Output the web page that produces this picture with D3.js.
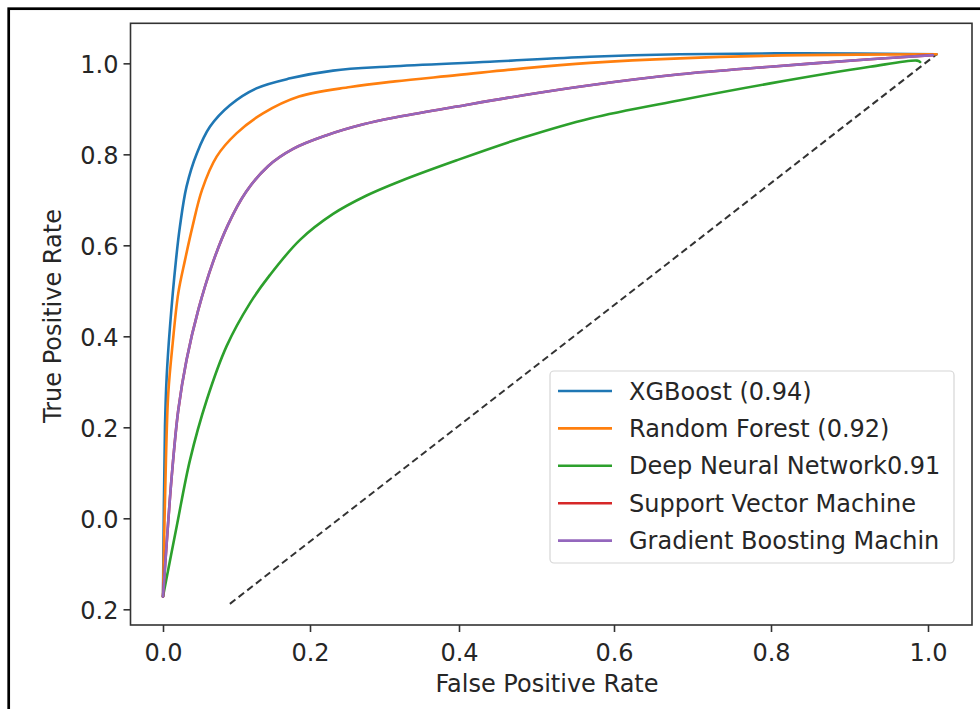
<!DOCTYPE html>
<html>
<head>
<meta charset="utf-8">
<script src="https://cdn.jsdelivr.net/npm/d3@7"></script>
<style>
  body { margin: 0; background: #fff; }
  svg { display: block; font-family: "DejaVu Sans", sans-serif; }
</style>
</head>
<body>
<svg id="chart" width="980" height="709"></svg>
<script>
// values
var xTicks = [0, 0.2, 0.4, 0.6, 0.8, 1.0];
var xTickLabels = ['0.0', '0.2', '0.4', '0.6', '0.8', '1.0'];
var yTicks = [-0.2, 0, 0.2, 0.4, 0.6, 0.8, 1.0];
var yTickLabels = ['0.2', '0.0', '0.2', '0.4', '0.6', '0.8', '1.0'];

var legendNames = ['XGBoost (0.94)', 'Random Forest (0.92)', 'Deep Neural Network0.91',
  'Support Vector Machine', 'Gradient Boosting Machin'];
var colors = ['#1f77b4', '#ff7f0e', '#2ca02c', '#d62728', '#9467bd'];

var xgbFpr = [0, 0.0027, 0.005, 0.0095, 0.0177, 0.023, 0.032, 0.046, 0.064, 0.091, 0.127, 0.173, 0.231, 0.307, 0.44, 0.569, 0.684, 0.841, 1.011];
var xgbTpr = [-0.172, 0.201, 0.311, 0.421, 0.568, 0.641, 0.729, 0.802, 0.861, 0.908, 0.945, 0.967, 0.984, 0.993, 1.0035, 1.0145, 1.02, 1.022, 1.02];

var rfFpr = [0, 0.004, 0.0072, 0.0132, 0.0208, 0.030, 0.0401, 0.0531, 0.073, 0.1, 0.136, 0.185, 0.254, 0.314, 0.397, 0.483, 0.569, 0.684, 0.841, 1.011];
var rfTpr = [-0.172, 0.128, 0.275, 0.385, 0.495, 0.568, 0.641, 0.722, 0.795, 0.846, 0.89, 0.927, 0.948, 0.9604, 0.974, 0.989, 1.001, 1.011, 1.018, 1.02];

var dnnFpr = [0, 0.0186, 0.0367, 0.0595, 0.0867, 0.1184, 0.1456, 0.1864, 0.231, 0.276, 0.321, 0.397, 0.483, 0.569, 0.684, 0.799, 0.926, 0.986, 0.99];
var dnnTpr = [-0.172, -0.018, 0.128, 0.26, 0.379, 0.473, 0.535, 0.612, 0.669, 0.7095, 0.741, 0.787, 0.837, 0.879, 0.919, 0.956, 0.9925, 1.006, 1.003];

var gbmFpr = [0, 0.005, 0.0118, 0.0208, 0.032, 0.048, 0.068, 0.0884, 0.1129, 0.1429, 0.177, 0.2224, 0.2716, 0.314, 0.397, 0.483, 0.569, 0.684, 0.799, 0.926, 1.006];
var gbmTpr = [-0.172, -0.055, 0.091, 0.238, 0.348, 0.458, 0.563, 0.645, 0.717, 0.774, 0.812, 0.842, 0.866, 0.881, 0.905, 0.93, 0.952, 0.976, 0.9925, 1.009, 1.018];

// the SVM curve is hidden under the GBM curve in the picture
var svmFpr = gbmFpr;
var svmTpr = gbmTpr;

var chanceFpr = [0.091, 1.011];
var chanceTpr = [-0.188, 1.02];

var svg = d3.select('#chart');

// outer frame of the picture
svg.append('rect')
  .attr('x', 8.7).attr('y', 8.7)
  .attr('width', 1000).attr('height', 720)
  .attr('fill', 'none')
  .attr('stroke', '#000')
  .attr('stroke-width', 2.7);

// the x axis of the source is not evenly spaced, so use a piecewise scale
var xScale = d3.scaleLinear()
  .domain([-0.0444, 0, 0.2, 0.4, 0.6, 0.8, 1.0, 1.056])
  .range([130.5, 163, 310, 459, 614, 771, 928, 972]);

var yScale = d3.scaleLinear()
  .domain([-0.2345, 1.088])
  .range([625, 23.3]);

var xAxis = d3.axisBottom(xScale)
  .tickValues(xTicks)
  .tickFormat((d, i) => xTickLabels[i])
  .tickSize(7)
  .tickPadding(12)
  .tickSizeOuter(0);

var yAxis = d3.axisLeft(yScale)
  .tickValues(yTicks)
  .tickFormat((d, i) => yTickLabels[i])
  .tickSize(7)
  .tickPadding(5)
  .tickSizeOuter(0);

var gx = svg.append('g')
  .attr('transform', 'translate(0,625)')
  .call(xAxis);
var gy = svg.append('g')
  .attr('transform', 'translate(130.5,0)')
  .call(yAxis);

[gx, gy].forEach(g => {
  g.select('.domain').remove();
  g.selectAll('line').attr('stroke', '#333').attr('stroke-width', 1.6);
  g.selectAll('text').attr('font-size', 24).attr('fill', '#262626')
    .attr('font-family', '"DejaVu Sans", sans-serif');
});
gy.selectAll('text').attr('dy', '0.4em');

var line = d3.line()
  .x(d => xScale(d[0]))
  .y(d => yScale(d[1]))
  .curve(d3.curveCatmullRom.alpha(0.5));

function pts(xs, ys) {
  return xs.map((x, i) => [x, ys[i]]);
}

// chance line
svg.append('path')
  .attr('d', d3.line().x(d => xScale(d[0])).y(d => yScale(d[1]))(pts(chanceFpr, chanceTpr)))
  .attr('fill', 'none')
  .attr('stroke', '#333')
  .attr('stroke-width', 2)
  .attr('stroke-dasharray', '7,4');

var curves = [
  [xgbFpr, xgbTpr, colors[0]],
  [rfFpr, rfTpr, colors[1]],
  [dnnFpr, dnnTpr, colors[2]],
  [svmFpr, svmTpr, colors[3]],
  [gbmFpr, gbmTpr, colors[4]]
];

curves.forEach(c => {
  svg.append('path')
    .attr('d', line(pts(c[0], c[1])))
    .attr('fill', 'none')
    .attr('stroke', c[2])
    .attr('stroke-width', 2.6)
    .attr('stroke-linejoin', 'round')
    .attr('stroke-linecap', 'round');
});

// plot frame
svg.append('rect')
  .attr('x', 130.5).attr('y', 23.3)
  .attr('width', 972 - 130.5).attr('height', 625 - 23.3)
  .attr('fill', 'none')
  .attr('stroke', '#333')
  .attr('stroke-width', 1.6);

// legend
var lg = svg.append('g');
lg.append('rect')
  .attr('x', 550).attr('y', 371)
  .attr('width', 404).attr('height', 192)
  .attr('rx', 4)
  .attr('fill', 'white').attr('fill-opacity', 0.8)
  .attr('stroke', '#d6d6d6').attr('stroke-width', 1.2);

legendNames.forEach((name, i) => {
  var y = 391 + i * 37.4;
  lg.append('line')
    .attr('x1', 558).attr('x2', 612)
    .attr('y1', y).attr('y2', y)
    .attr('stroke', colors[i])
    .attr('stroke-width', 2.6);
  lg.append('text')
    .attr('x', 629).attr('y', y)
    .attr('dy', '0.36em')
    .attr('font-size', 24)
    .attr('fill', '#262626')
    .text(name);
});

// axis titles
svg.append('text')
  .attr('x', 547).attr('y', 692)
  .attr('text-anchor', 'middle')
  .attr('font-size', 24)
  .attr('fill', '#262626')
  .text('False Positive Rate');

svg.append('text')
  .attr('transform', 'translate(61,316) rotate(-90)')
  .attr('text-anchor', 'middle')
  .attr('font-size', 24)
  .attr('fill', '#262626')
  .text('True Positive Rate');
</script>
</body>
</html>
